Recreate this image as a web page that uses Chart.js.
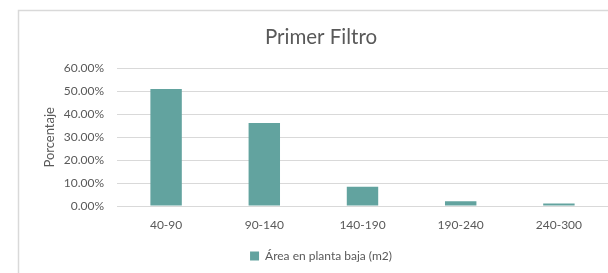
<!DOCTYPE html>
<html>
<head>
<meta charset="utf-8">
<script src="https://cdn.jsdelivr.net/npm/chart.js@4"></script>
<style>
  html, body { margin: 0; padding: 0; background: #fff; overflow: hidden; }
  #wrap { position: relative; width: 608px; height: 273px; }
</style>
</head>
<body>
<div id="wrap"><canvas id="chart" width="608" height="273"></canvas></div>
<script>
// Primer Filtro - porcentaje por rango de area
const categories = ["40-90", "90-140", "140-190", "190-240", "240-300"];
const areaValues = [51.1, 36.2, 8.4, 2.1, 1.1];
const yTicks = [0, 10, 20, 30, 40, 50, 60];

const textColor = "#595959";
const gridColor = "#d9d9d9";
const barColor = "#62a39f";

// light gray frame around the chart (right/bottom edges run off the picture)
const framePlugin = {
    id: "frame",
    beforeDraw(chart) {
        const ctx = chart.ctx;
        ctx.save();
        ctx.strokeStyle = "#d9d9d9";
        ctx.lineWidth = 1.5;
        ctx.beginPath();
        ctx.moveTo(18.5, 273);
        ctx.lineTo(18.5, 10.5);
        ctx.lineTo(608, 10.5);
        ctx.stroke();
        ctx.restore();
    }
};

Chart.defaults.font.family = "Lato, 'Open Sans', sans-serif";
Chart.defaults.color = textColor;

new Chart(document.getElementById("chart"), {
    type: "bar",
    data: {
        labels: categories,
        datasets: [{
            label: "Área en planta baja (m2)",
            data: areaValues,
            backgroundColor: barColor,
            borderWidth: 0,
            categoryPercentage: 1,
            barPercentage: 0.32
        }]
    },
    options: {
        responsive: false,
        animation: false,
        layout: { padding: { top: 10, left: 34, right: 0, bottom: 1 } },
        plugins: {
            title: {
                display: true,
                text: "Primer Filtro",
                color: textColor,
                font: { size: 20.5, weight: "normal" },
                padding: { top: 15, bottom: 19 }
            },
            legend: {
                position: "bottom",
                labels: {
                    boxWidth: 9,
                    boxHeight: 9,
                    font: { size: 12 },
                    color: textColor,
                    padding: 6
                }
            },
            tooltip: { enabled: false }
        },
        scales: {
            x: {
                grid: { display: false, drawTicks: false },
                border: { display: false },
                ticks: { font: { size: 12 }, color: textColor, padding: 12, maxRotation: 0 },
                afterFit(scale) { scale.height = 38; }
            },
            y: {
                min: 0,
                max: 60,
                afterBuildTicks(scale) { scale.ticks = yTicks.map(v => ({ value: v })); },
                grid: { color: gridColor, lineWidth: 1, drawTicks: false },
                border: { display: false },
                ticks: {
                    font: { size: 12 },
                    color: textColor,
                    padding: 13,
                    callback: v => v.toFixed(2) + "%"
                },
                title: {
                    display: true,
                    text: "Porcentaje",
                    color: textColor,
                    font: { size: 13 },
                    padding: { top: 8, bottom: 0 }
                },
                afterFit(scale) { scale.width = 83; }
            }
        }
    },
    plugins: [framePlugin]
});
</script>
</body>
</html>
